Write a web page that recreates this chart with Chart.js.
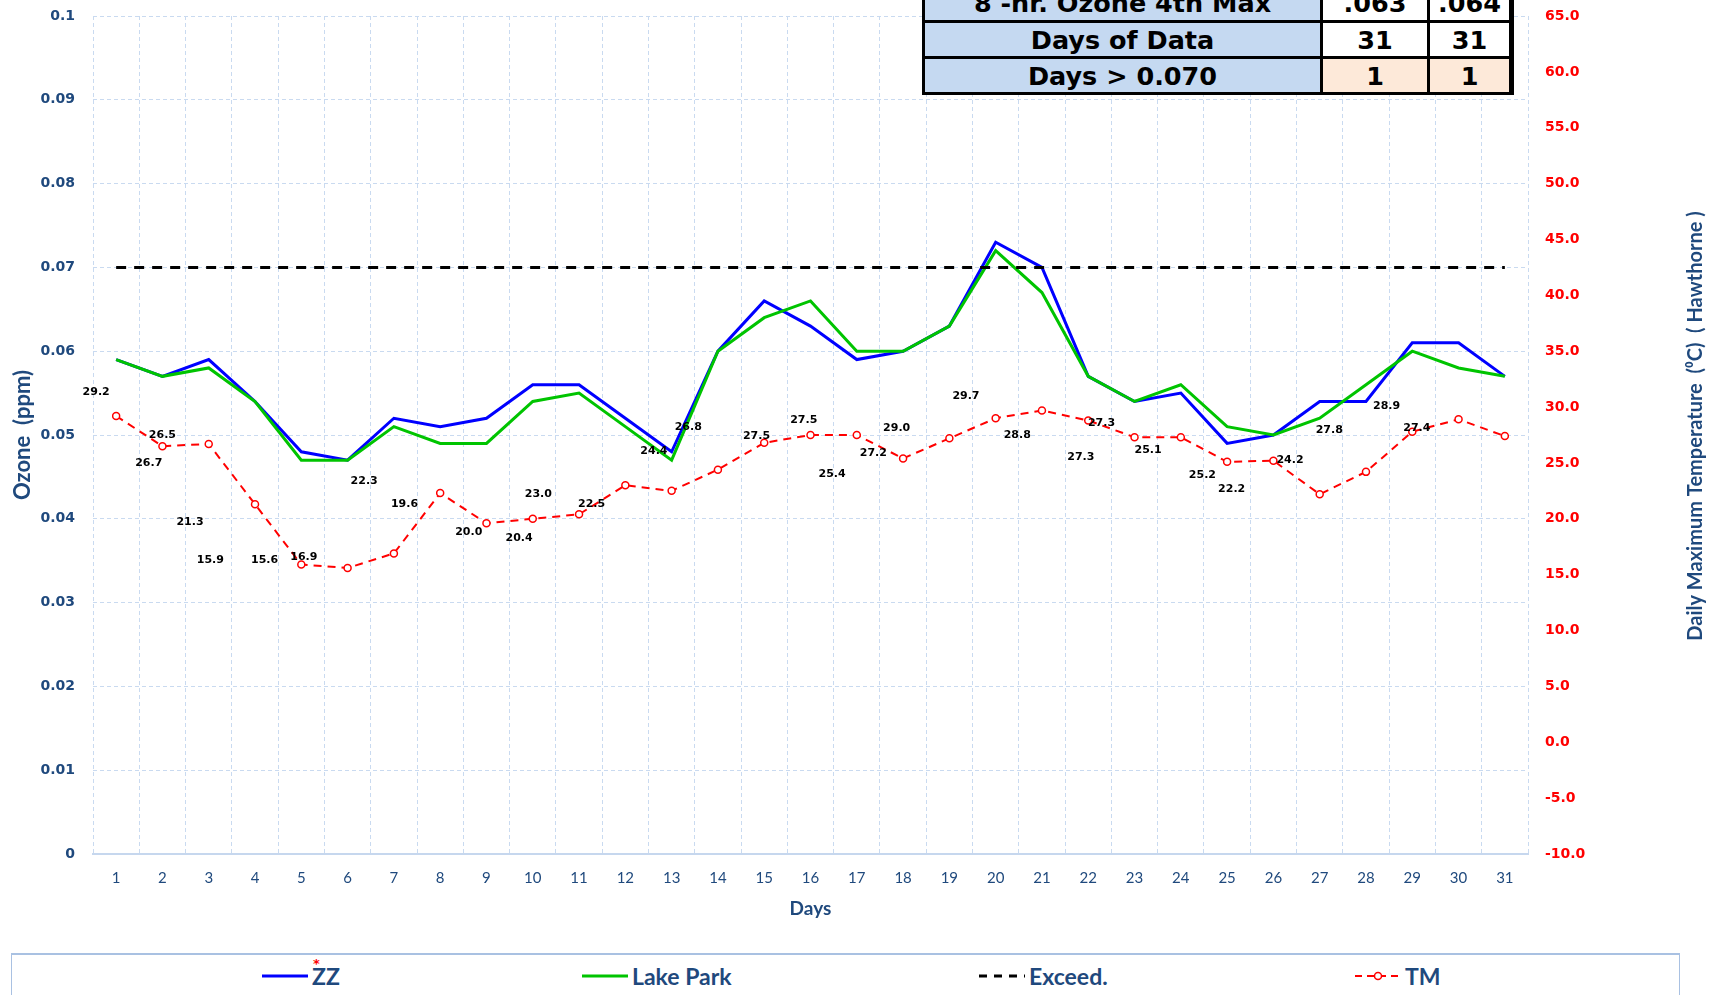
<!DOCTYPE html>
<html>
<head>
<meta charset="utf-8">
<script src="https://cdn.jsdelivr.net/npm/chart.js@4.4.1/dist/chart.umd.min.js"></script>
<style>
  html, body { margin: 0; padding: 0; background: #fff; overflow: hidden; }
  #wrap { position: relative; width: 1717px; height: 995px; }
  canvas { position: absolute; left: 0; top: 0; }
  #stats {
    position: absolute; left: 922px; top: -17px;
    display: grid; grid-template-columns: 395px 104px 79px;
    grid-template-rows: 34px 33px 33px; gap: 3px;
    padding: 3px 5px 3px 3px; background: #000;
    font: bold 25.5px "DejaVu Sans", Verdana, sans-serif; color: #000;
  }
  #stats div { display: flex; align-items: center; justify-content: center; background: #fff; }
  #stats div.lab { background: #c5d9f1; }
  #stats div.hi { background: #fde9d9; }
  #legend {
    position: absolute; left: 11px; top: 953px; width: 1667px; height: 60px;
    border: 1px solid #a9c1e2; border-top: 2px solid #a9c1e2; background: #fff;
    font-family: Lato, sans-serif;
  }
  .item { position: absolute; top: 8px; height: 26px; display: flex; align-items: center;
    font-weight: bold; font-size: 23px; color: #1f497d; }
  .item svg { margin-right: 4px; }
  .star { position: absolute; color: #ff0000; font: bold 13px "DejaVu Sans", sans-serif; }
</style>
</head>
<body>
<div id="wrap">
  <canvas id="ozoneChart" width="1717" height="995"></canvas>
  <div id="stats"></div>
  <div id="legend"></div>
</div>
<script>
// days of the month
const days = ["1","2","3","4","5","6","7","8","9","10","11","12","13","14","15","16",
              "17","18","19","20","21","22","23","24","25","26","27","28","29","30","31"];

// 8-hr ozone (ppm)
const zzValues = [0.059, 0.057, 0.059, 0.054, 0.048, 0.047, 0.052, 0.051, 0.052, 0.056, 0.056,
                  0.052, 0.048, 0.060, 0.066, 0.063, 0.059, 0.060, 0.063, 0.073, 0.070,
                  0.057, 0.054, 0.055, 0.049, 0.050, 0.054, 0.054, 0.061, 0.061, 0.057];
const lakeParkValues = [0.059, 0.057, 0.058, 0.054, 0.047, 0.047, 0.051, 0.049, 0.049, 0.054, 0.055,
                        0.051, 0.047, 0.060, 0.064, 0.066, 0.060, 0.060, 0.063, 0.072, 0.067,
                        0.057, 0.054, 0.056, 0.051, 0.050, 0.052, 0.056, 0.060, 0.058, 0.057];
const exceedValues = days.map(() => 0.070);

// daily max temperature (C)
const tmValues = [29.2, 26.5, 26.7, 21.3, 15.9, 15.6, 16.9, 22.3, 19.6, 20.0, 20.4,
                  23.0, 22.5, 24.4, 26.8, 27.5, 27.5, 25.4, 27.2, 29.0, 29.7,
                  28.8, 27.3, 27.3, 25.1, 25.2, 22.2, 24.2, 27.8, 28.9, 27.4];

// summary table rows
const statRows = [
  ["8 -hr. Ozone 4th Max", ".063", ".064"],
  ["Days of Data", "31", "31"],
  ["Days > 0.070", "1", "1"]
];

// where each temperature label sits relative to its point (px)
const tmLabelShift = [[-20,-24],[0,-11],[-60,19],[-65,18],[-91,-4],[-83,-8],[-90,4],[-76,-12],
  [-82,-19],[-64,13],[-60,24],[-87,9],[-80,13],[-64,-18],[-76,-16],[-54,1],[-53,-15],[-71,16],
  [-76,15],[-99,10],[-76,-14],[-71,15],[-33,-14],[-100,20],[-79,-12],[-71,14],[-88,-5],
  [-76,-12],[-83,-2],[-72,-13],[-88,-8]];

const navy = "#1f497d";
const calib = "Lato, sans-serif";
const verd = '"DejaVu Sans", Verdana, sans-serif';
const gridColor = "#c9daf0";
const rightTitle = "Daily Maximum Temperature  (\u2070C)  ( Hawthorne )";

const tmLabels = {
  id: "tmLabels",
  afterDatasetsDraw(chart) {
    const idx = chart.data.datasets.findIndex(d => d.label === "TM");
    const meta = chart.getDatasetMeta(idx);
    const ctx = chart.ctx;
    ctx.save();
    ctx.font = 'bold 11px "DejaVu Sans", sans-serif';
    ctx.fillStyle = "#000";
    ctx.textAlign = "center";
    ctx.textBaseline = "middle";
    meta.data.forEach((pt, i) => {
      const s = tmLabelShift[i];
      ctx.fillText(tmValues[i].toFixed(1), pt.x + s[0], pt.y + s[1]);
    });
    ctx.restore();
  }
};

// right axis title reads bottom-to-top in the original
const rightTitlePlugin = {
  id: "rightTitle",
  afterDraw(chart) {
    const s = chart.scales.y1;
    const area = chart.chartArea;
    const ctx = chart.ctx;
    ctx.save();
    ctx.translate(s.right - 21, (area.top + area.bottom) / 2 - 9);
    ctx.rotate(-Math.PI / 2);
    ctx.font = "bold 20px " + calib;
    ctx.fillStyle = navy;
    ctx.textAlign = "center";
    ctx.textBaseline = "middle";
    ctx.fillText(rightTitle, 0, 0);
    ctx.restore();
  }
};

const tightY = s => { s.paddingTop = 8; s.paddingBottom = 8; };

const ctx = document.getElementById("ozoneChart").getContext("2d");
new Chart(ctx, {
  type: "line",
  data: {
    labels: days,
    datasets: [
      { label: "ZZ", data: zzValues, borderColor: "#0000ff", borderWidth: 3,
        pointRadius: 0, tension: 0, yAxisID: "y", order: 4 },
      { label: "Lake Park", data: lakeParkValues, borderColor: "#00c400", borderWidth: 3,
        pointRadius: 0, tension: 0, yAxisID: "y", order: 3 },
      { label: "Exceed.", data: exceedValues, borderColor: "#000", borderWidth: 3,
        borderDash: [10, 8], pointRadius: 0, yAxisID: "y", order: 2 },
      { label: "TM", data: tmValues, borderColor: "#ff0000", borderWidth: 2,
        borderDash: [8, 6], pointRadius: 3.5, pointBorderWidth: 1.5,
        pointBackgroundColor: "#fff", pointBorderColor: "#ff0000", yAxisID: "y1", order: 1 }
    ]
  },
  options: {
    responsive: false,
    animation: false,
    layout: { padding: { left: 0, right: 0, top: 16, bottom: 71 } },
    plugins: { legend: { display: false }, tooltip: { enabled: false } },
    scales: {
      x: {
        offset: true,
        grid: { offset: true, color: gridColor, lineWidth: 1, drawTicks: false },
        border: { display: true, color: "#c6d7ee", width: 2, dash: [4, 3] },
        ticks: { color: navy, padding: 15, font: { family: calib, size: 15 } },
        title: { display: true, text: "Days", color: navy, padding: { top: 4, bottom: 4 },
                 font: { family: calib, size: 19, weight: "bold" } },
        afterFit: s => { s.height = 70; }
      },
      y: {
        position: "left", min: 0, max: 0.1,
        grid: { color: gridColor, drawTicks: false },
        border: { display: false, dash: [4, 3] },
        ticks: { stepSize: 0.01, color: navy, padding: 18,
                 font: { family: verd, size: 14, weight: "bold" },
                 callback: v => String(Math.round(v * 100) / 100) },
        title: { display: true, text: "Ozone  (ppm)", color: navy, padding: { top: 10, bottom: 0 },
                 font: { family: calib, size: 22, weight: "bold" } },
        afterFit: s => { s.width = 93; tightY(s); }
      },
      y1: {
        position: "right", min: -10, max: 65,
        grid: { display: false },
        border: { display: false },
        ticks: { stepSize: 5, color: "#ff0000", padding: 9,
                 font: { family: verd, size: 14, weight: "bold" },
                 callback: v => v.toFixed(1) },
        afterFit: s => { s.width = 189; tightY(s); }
      }
    }
  },
  plugins: [tmLabels, rightTitlePlugin]
});

// summary table
const stats = document.getElementById("stats");
statRows.forEach((row, r) => {
  row.forEach((txt, c) => {
    const d = document.createElement("div");
    d.textContent = txt;
    if (c === 0) d.className = "lab";
    else if (r === 2) d.className = "hi";
    stats.appendChild(d);
  });
});

// legend
const legend = document.getElementById("legend");
const legendItems = [
  { text: "ZZ", left: 250, svg: '<line x1="0" y1="7" x2="46" y2="7" stroke="#0000ff" stroke-width="3"/>' },
  { text: "Lake Park", left: 570, svg: '<line x1="0" y1="7" x2="46" y2="7" stroke="#00c400" stroke-width="3"/>' },
  { text: "Exceed.", left: 967, svg: '<line x1="0" y1="7" x2="46" y2="7" stroke="#000" stroke-width="3" stroke-dasharray="8,7"/>' },
  { text: "TM", left: 1343, svg: '<line x1="0" y1="7" x2="46" y2="7" stroke="#ff0000" stroke-width="2" stroke-dasharray="7,5"/><circle cx="23" cy="7" r="3.5" fill="#fff" stroke="#ff0000" stroke-width="1.5"/>' }
];
legendItems.forEach(it => {
  const el = document.createElement("div");
  el.className = "item";
  el.style.left = it.left + "px";
  el.innerHTML = '<svg width="46" height="14">' + it.svg + '</svg><span>' + it.text + '</span>';
  legend.appendChild(el);
});
const star = document.createElement("span");
star.className = "star";
star.textContent = "*";
star.style.left = "301px";
star.style.top = "1px";
legend.appendChild(star);
</script>
</body>
</html>
